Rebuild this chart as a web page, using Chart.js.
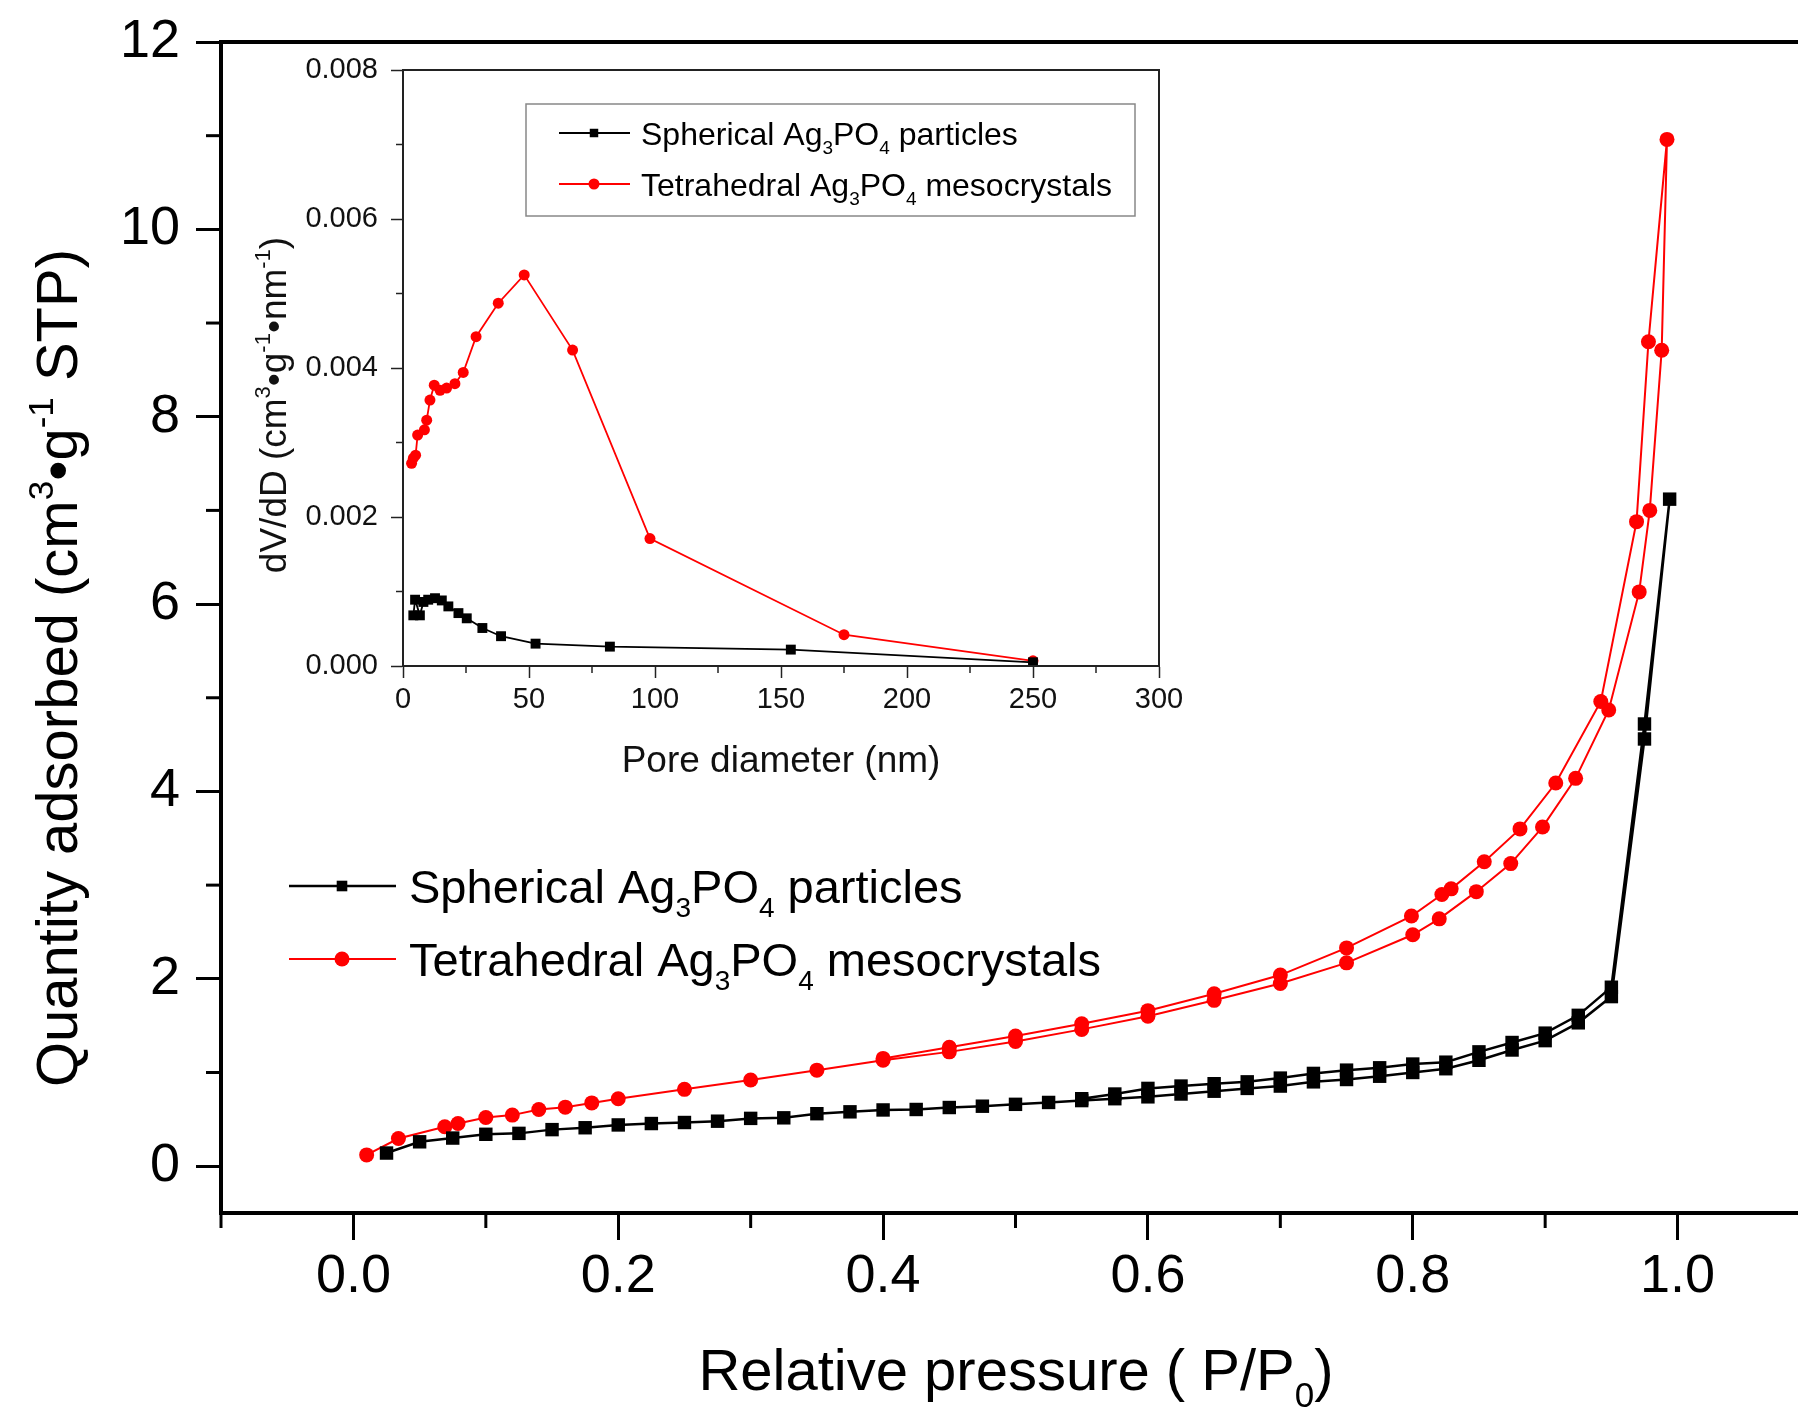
<!DOCTYPE html>
<html>
<head>
<meta charset="utf-8">
<script src="https://cdn.jsdelivr.net/npm/chart.js@4.4.0/dist/chart.umd.min.js"></script>
<style>
  html, body { margin: 0; padding: 0; overflow: hidden; background: #fff; width: 1798px; height: 1413px; }
  #main { position: absolute; left: 0; top: 0; }
  #inset { position: absolute; left: 250px; top: 40px; }
</style>
</head>
<body>
<canvas id="main" width="1830" height="1413"></canvas>
<canvas id="inset" width="950" height="760"></canvas>
<script>
// ---------- Isotherm data (relative pressure P/P0 vs quantity adsorbed, cm3/g STP) ----------
const sphericalAdsP = [0.025, 0.05, 0.075, 0.10, 0.125, 0.15, 0.175, 0.20, 0.225, 0.25, 0.275, 0.30, 0.325, 0.35, 0.375, 0.40, 0.425, 0.45, 0.475, 0.50, 0.525, 0.55, 0.575, 0.60, 0.625, 0.65, 0.675, 0.70, 0.725, 0.75, 0.775, 0.80, 0.825, 0.85, 0.875, 0.90, 0.925, 0.95, 0.975, 0.994];
const sphericalAdsQ = [0.14, 0.26, 0.30, 0.34, 0.35, 0.39, 0.41, 0.44, 0.455, 0.466, 0.48, 0.51, 0.516, 0.56, 0.58, 0.60, 0.605, 0.626, 0.64, 0.66, 0.68, 0.70, 0.72, 0.74, 0.77, 0.80, 0.83, 0.855, 0.90, 0.925, 0.96, 1.00, 1.04, 1.13, 1.24, 1.34, 1.53, 1.81, 4.56, 7.12];
const sphericalDesP = [0.975, 0.95, 0.925, 0.90, 0.875, 0.85, 0.825, 0.80, 0.775, 0.75, 0.725, 0.70, 0.675, 0.65, 0.625, 0.60, 0.575, 0.55];
const sphericalDesQ = [4.72, 1.91, 1.61, 1.42, 1.32, 1.22, 1.11, 1.09, 1.05, 1.025, 0.99, 0.94, 0.90, 0.88, 0.855, 0.83, 0.77, 0.72];

const tetraAdsP = [0.01, 0.034, 0.069, 0.079, 0.10, 0.12, 0.14, 0.16, 0.18, 0.20, 0.25, 0.30, 0.35, 0.40, 0.45, 0.50, 0.55, 0.60, 0.65, 0.70, 0.75, 0.80, 0.82, 0.848, 0.874, 0.898, 0.923, 0.948, 0.971, 0.979, 0.988, 0.992];
const tetraAdsQ = [0.12, 0.295, 0.42, 0.455, 0.52, 0.545, 0.605, 0.63, 0.675, 0.72, 0.82, 0.92, 1.025, 1.13, 1.22, 1.33, 1.46, 1.60, 1.77, 1.95, 2.17, 2.47, 2.64, 2.93, 3.23, 3.62, 4.14, 4.87, 6.13, 7.00, 8.71, 10.96];
const tetraDesP = [0.978, 0.969, 0.942, 0.908, 0.881, 0.854, 0.829, 0.822, 0.799, 0.75, 0.70, 0.65, 0.60, 0.55, 0.50, 0.45, 0.40];
const tetraDesQ = [8.80, 6.88, 4.96, 4.09, 3.60, 3.25, 2.96, 2.90, 2.67, 2.33, 2.04, 1.84, 1.66, 1.52, 1.39, 1.27, 1.15];

// ---------- Pore size distribution (pore diameter nm vs dV/dD) ----------
const sphericalPoreD = [4.1, 4.8, 6.7, 8.1, 10, 12.7, 15.4, 18, 22, 25.3, 31.5, 38.9, 52.6, 82.1, 153.9, 250];
const sphericalPoreV = [0.00068, 0.00089, 0.00068, 0.00086, 0.00089, 0.00091, 0.00088, 0.00080, 0.00071, 0.00064, 0.00051, 0.00040, 0.00030, 0.00026, 0.00022, 0.00005];
const tetraPoreD = [3.4, 4.1, 5.0, 5.8, 8.5, 9.4, 10.7, 12.4, 14.7, 17.3, 20.6, 23.9, 29, 37.8, 48.1, 67.3, 98, 175, 250];
const tetraPoreV = [0.00272, 0.00279, 0.00283, 0.00310, 0.00317, 0.00330, 0.00357, 0.00377, 0.00370, 0.00373, 0.00379, 0.00394, 0.00442, 0.00487, 0.00525, 0.00424, 0.00171, 0.00042, 0.00007];

// ---------- Tick values ----------
const mainXMajor = [0, 0.2, 0.4, 0.6, 0.8, 1.0];
const mainXMinor = [-0.1, 0.1, 0.3, 0.5, 0.7, 0.9, 1.1];
const mainYMajor = [0, 2, 4, 6, 8, 10, 12];
const mainYMinor = [1, 3, 5, 7, 9, 11];
const insetXMajor = [0, 50, 100, 150, 200, 250, 300];
const insetXMinor = [25, 75, 125, 175, 225, 275];
const insetYMajor = [0, 0.002, 0.004, 0.006, 0.008];
const insetYMinor = [0.001, 0.003, 0.005, 0.007];

// ---------- Labels (rich text: [text, 'sup' | 'sub' | ''] ) ----------
const labelSpherical = [['Spherical Ag', ''], ['3', 'sub'], ['PO', ''], ['4', 'sub'], [' particles', '']];
const labelTetra = [['Tetrahedral Ag', ''], ['3', 'sub'], ['PO', ''], ['4', 'sub'], [' mesocrystals', '']];
const titleMainX = [['Relative pressure ( P/P', ''], ['0', 'sub'], [')', '']];
const titleMainY = [['Quantity adsorbed (cm', ''], ['3', 'sup'], ['\u2022g', ''], ['-1', 'sup'], [' STP)', '']];
const titleInsetX = [['Pore diameter (nm)', '']];
const titleInsetY = [['dV/dD (cm', ''], ['3', 'sup'], ['\u2022g', ''], ['-1', 'sup'], ['\u2022nm', ''], ['-1', 'sup'], [')', '']];

const FONT = "'Liberation Sans', Arial, Helvetica, sans-serif";
const RED = '#ff0000';
const BLACK = '#000000';

function toPoints(xs, ys) { return xs.map((x, i) => ({ x, y: ys[i] })); }

function drawRich(ctx, parts, x, y, size, align) {
  const small = Math.round(size * 0.6);
  const widths = parts.map(p => {
    ctx.font = (p[1] ? small : size) + 'px ' + FONT;
    return ctx.measureText(p[0]).width;
  });
  const total = widths.reduce((a, b) => a + b, 0);
  let cx = align === 'center' ? x - total / 2 : x;
  ctx.textAlign = 'left';
  ctx.textBaseline = 'alphabetic';
  parts.forEach((p, i) => {
    ctx.font = (p[1] ? small : size) + 'px ' + FONT;
    const dy = p[1] === 'sup' ? -0.42 * size : (p[1] === 'sub' ? 0.3 * size : 0);
    ctx.fillText(p[0], cx, y + dy);
    cx += widths[i];
  });
}

function drawMinor(ctx, scale, values, length, width, color) {
  ctx.save();
  ctx.strokeStyle = color;
  ctx.lineWidth = width;
  values.forEach(v => {
    const p = scale.getPixelForValue(v);
    ctx.beginPath();
    if (scale.isHorizontal()) { ctx.moveTo(p, scale.top); ctx.lineTo(p, scale.top + length); }
    else { ctx.moveTo(scale.right, p); ctx.lineTo(scale.right - length, p); }
    ctx.stroke();
  });
  ctx.restore();
}

function drawLegendRow(ctx, ds, x0, x1, xm, y, xt, size, parts, radius) {
  ctx.save();
  ctx.strokeStyle = ds.borderColor;
  ctx.lineWidth = ds.borderWidth;
  ctx.beginPath(); ctx.moveTo(x0, y); ctx.lineTo(x1, y); ctx.stroke();
  ctx.fillStyle = ds.pointBackgroundColor;
  Chart.helpers.drawPoint(ctx, { pointStyle: ds.pointStyle, radius: radius, rotation: 0, borderWidth: 0 }, xm, y);
  ctx.fillStyle = '#000';
  drawRich(ctx, parts, xt, y + 0.36 * size, size, 'left');
  ctx.restore();
}

function fixedTicks(values) {
  return scale => { scale.ticks = values.map(v => ({ value: v })); };
}

// Axis size is fixed; label overhang must not shift the plot area
function fixedSize(prop, size) {
  return scale => {
    scale[prop] = size;
    scale.paddingTop = 0; scale.paddingBottom = 0;
    scale.paddingLeft = 0; scale.paddingRight = 0;
  };
}

function lineDataset(label, xs1, ys1, xs2, ys2, color, width, style, radius) {
  return {
    label,
    data: toPoints(xs1, ys1).concat(toPoints(xs2, ys2)),
    showLine: true,
    borderColor: color,
    backgroundColor: color,
    borderWidth: width,
    pointStyle: style,
    pointRadius: radius,
    pointBackgroundColor: color,
    pointBorderWidth: 0,
    tension: 0
  };
}

// ---------- Main isotherm chart ----------
const mainDecor = {
  id: 'mainDecor',
  afterDraw(chart) {
    const ctx = chart.ctx;
    const a = chart.chartArea;
    const sx = chart.scales.x, sy = chart.scales.y;
    ctx.save();
    ctx.strokeStyle = '#000';
    ctx.lineWidth = 4;
    ctx.beginPath();
    ctx.moveTo(a.left - 2, a.top); ctx.lineTo(a.right, a.top); ctx.lineTo(a.right, a.bottom);
    ctx.stroke();
    ctx.restore();
    drawMinor(ctx, sx, mainXMinor, 15, 3, '#000');
    drawMinor(ctx, sy, mainYMinor, 15, 3, '#000');
    ctx.save();
    ctx.fillStyle = '#000';
    drawRich(ctx, titleMainX, 1016, 1390, 58, 'center');
    ctx.translate(77, 668);
    ctx.rotate(-Math.PI / 2);
    drawRich(ctx, titleMainY, 0, 0, 58, 'center');
    ctx.restore();
    const ds = chart.data.datasets;
    drawLegendRow(ctx, ds[0], 289, 396, 342, 886, 409, 47, labelSpherical, 7.5);
    drawLegendRow(ctx, ds[1], 289, 396, 342, 959, 409, 47, labelTetra, 7.5);
  }
};

new Chart(document.getElementById('main'), {
  type: 'scatter',
  data: {
    datasets: [
      lineDataset('Spherical', sphericalAdsP, sphericalAdsQ, sphericalDesP, sphericalDesQ, BLACK, 2.5, 'rect', 9.5),
      lineDataset('Tetrahedral', tetraAdsP, tetraAdsQ, tetraDesP, tetraDesQ, RED, 2, 'circle', 7.5)
    ]
  },
  options: {
    responsive: false,
    devicePixelRatio: 1,
    animation: false,
    events: [],
    layout: { padding: { left: 0, top: 42, right: 20, bottom: 0 } },
    plugins: { legend: { display: false }, tooltip: { enabled: false } },
    scales: {
      x: {
        type: 'linear', min: -0.1, max: 1.1,
        afterBuildTicks: fixedTicks(mainXMajor),
        afterFit: fixedSize('height', 200),
        border: { display: true, color: '#000', width: 4 },
        grid: { drawOnChartArea: false, drawTicks: true, tickLength: 27, tickWidth: 3, tickColor: '#000' },
        ticks: { font: { family: FONT, size: 54 }, color: '#000', padding: 5, maxRotation: 0, autoSkip: false,
                 callback: v => Number(v).toFixed(1) }
      },
      y: {
        type: 'linear', min: -0.5, max: 12,
        afterBuildTicks: fixedTicks(mainYMajor),
        afterFit: fixedSize('width', 221),
        border: { display: true, color: '#000', width: 4 },
        grid: { drawOnChartArea: false, drawTicks: true, tickLength: 25, tickWidth: 3, tickColor: '#000' },
        ticks: { font: { family: FONT, size: 54 }, color: '#000', padding: 16, autoSkip: false,
                 callback: v => String(v) }
      }
    }
  },
  plugins: [mainDecor]
});

// ---------- Inset: pore size distribution ----------
const insetDecor = {
  id: 'insetDecor',
  beforeDraw(chart) {
    const ctx = chart.ctx;
    const a = chart.chartArea;
    ctx.save();
    ctx.fillStyle = '#fff';
    ctx.fillRect(a.left, a.top, a.right - a.left, a.bottom - a.top);
    ctx.restore();
  },
  afterDraw(chart) {
    const ctx = chart.ctx;
    const a = chart.chartArea;
    ctx.save();
    ctx.strokeStyle = '#222';
    ctx.lineWidth = 2;
    ctx.strokeRect(a.left, a.top, a.right - a.left, a.bottom - a.top);
    ctx.restore();
    drawMinor(ctx, chart.scales.x, insetXMinor, 7, 1.5, '#222');
    drawMinor(ctx, chart.scales.y, insetYMinor, 7, 1.5, '#222');
    ctx.save();
    ctx.fillStyle = '#111';
    drawRich(ctx, titleInsetX, 531, 732, 37, 'center');
    ctx.translate(36, 365);
    ctx.rotate(-Math.PI / 2);
    drawRich(ctx, titleInsetY, 0, 0, 37, 'center');
    ctx.restore();
    // legend frame
    ctx.save();
    ctx.strokeStyle = '#888';
    ctx.lineWidth = 1.5;
    ctx.strokeRect(276, 64, 609, 112);
    ctx.restore();
    const ds = chart.data.datasets;
    drawLegendRow(ctx, ds[0], 309, 380, 344, 93, 391, 32, labelSpherical, 6);
    drawLegendRow(ctx, ds[1], 309, 380, 344, 144, 391, 32, labelTetra, 5.5);
  }
};

new Chart(document.getElementById('inset'), {
  type: 'scatter',
  data: {
    datasets: [
      lineDataset('Spherical', sphericalPoreD, sphericalPoreV, [], [], BLACK, 1.8, 'rect', 7),
      lineDataset('Tetrahedral', tetraPoreD, tetraPoreV, [], [], RED, 1.8, 'circle', 5.5)
    ]
  },
  options: {
    responsive: false,
    devicePixelRatio: 1,
    animation: false,
    events: [],
    layout: { padding: { left: 0, top: 30, right: 41, bottom: 0 } },
    plugins: { legend: { display: false }, tooltip: { enabled: false } },
    scales: {
      x: {
        type: 'linear', min: 0, max: 300,
        afterBuildTicks: fixedTicks(insetXMajor),
        afterFit: fixedSize('height', 134),
        border: { display: true, color: '#222', width: 2 },
        grid: { drawOnChartArea: false, drawTicks: true, tickLength: 12, tickWidth: 1.5, tickColor: '#222' },
        ticks: { font: { family: FONT, size: 29 }, color: '#111', padding: 5, maxRotation: 0, autoSkip: false,
                 callback: v => String(v) }
      },
      y: {
        type: 'linear', min: 0, max: 0.008,
        afterBuildTicks: fixedTicks(insetYMajor),
        afterFit: fixedSize('width', 153),
        border: { display: true, color: '#222', width: 2 },
        grid: { drawOnChartArea: false, drawTicks: true, tickLength: 12, tickWidth: 1.5, tickColor: '#222' },
        ticks: { font: { family: FONT, size: 29 }, color: '#111', padding: 13, autoSkip: false,
                 callback: v => Number(v).toFixed(3) }
      }
    }
  },
  plugins: [insetDecor]
});
</script>
</body>
</html>
